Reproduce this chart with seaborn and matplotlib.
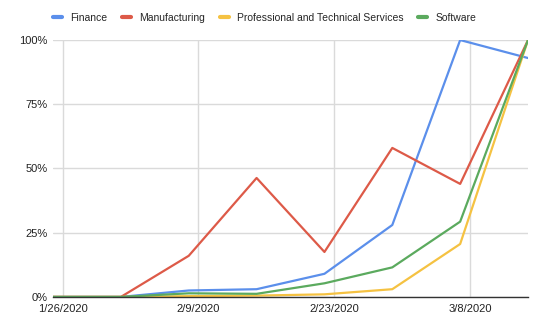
import matplotlib
matplotlib.use("Agg")
import matplotlib.pyplot as plt
from matplotlib.ticker import FuncFormatter
from matplotlib.lines import Line2D
import seaborn as sns
import pandas as pd

dates = ["2020-01-25", "2020-02-01", "2020-02-08", "2020-02-15",
         "2020-02-22", "2020-02-29", "2020-03-07", "2020-03-14"]
finance = [0.0, 0.0, 2.5, 3.0, 9.0, 28.0, 100.0, 93.0]
manufacturing = [0.0, 0.0, 16.0, 46.3, 17.5, 58.0, 44.0, 100.0]
professional = [0.0, 0.0, 0.3, 0.5, 1.0, 3.0, 20.6, 100.0]
software = [0.0, 0.0, 1.4, 1.2, 5.3, 11.5, 29.3, 100.0]
series_names = ["Finance", "Manufacturing", "Professional and Technical Services", "Software"]
tick_dates = ["2020-01-26", "2020-02-09", "2020-02-23", "2020-03-08"]
tick_labels = ["1/26/2020", "2/9/2020", "2/23/2020", "3/8/2020"]
y_ticks = [0, 25, 50, 75, 100]

colors = ["#5B8FEB", "#DD5A48", "#F5C242", "#5BAA5E"]

rows = []
for name, vals in zip(series_names, [finance, manufacturing, professional, software]):
    for d, v in zip(dates, vals):
        rows.append({"date": pd.Timestamp(d), "value": v, "series": name})
df = pd.DataFrame(rows)

sns.set_style("white")
plt.rcParams["font.family"] = ["Liberation Sans", "DejaVu Sans"]

fig = plt.figure(figsize=(5.41, 3.31), dpi=100)
ax = fig.add_axes([0.098, 0.103, 0.878, 0.776])

sns.lineplot(data=df, x="date", y="value", hue="series", hue_order=series_names,
             palette=colors, linewidth=1.6, ax=ax, legend=False, zorder=3)

ax.set_xlim(pd.Timestamp(dates[0]), pd.Timestamp(dates[-1]))
ax.set_ylim(0, 100)
ax.set_xticks([pd.Timestamp(t) for t in tick_dates])
ax.set_xticklabels(tick_labels)
ax.set_yticks(y_ticks)
ax.yaxis.set_major_formatter(FuncFormatter(lambda v, p: f"{int(v)}%"))
ax.grid(True, color="#DADADA", linewidth=1)
ax.set_axisbelow(True)
for s in ["top", "right", "left"]:
    ax.spines[s].set_visible(False)
ax.spines["bottom"].set_color("#333333")
ax.spines["bottom"].set_linewidth(1)
ax.spines["bottom"].set_zorder(4)
ax.tick_params(axis="y", length=0, labelsize=8, colors="#222222", pad=4)
ax.tick_params(axis="x", length=0, labelsize=8, colors="#222222", pad=5)
ax.set_xlabel("")
ax.set_ylabel("")

handles = [Line2D([0], [0], color=c, linewidth=3) for c in colors]
fig.legend(handles, series_names, loc="center", bbox_to_anchor=(0.489, 0.947),
           ncol=4, frameon=False, fontsize=7.5, handlelength=0.9, handletextpad=0.75,
           columnspacing=1.4)

fig.savefig("out.png", dpi=100)
